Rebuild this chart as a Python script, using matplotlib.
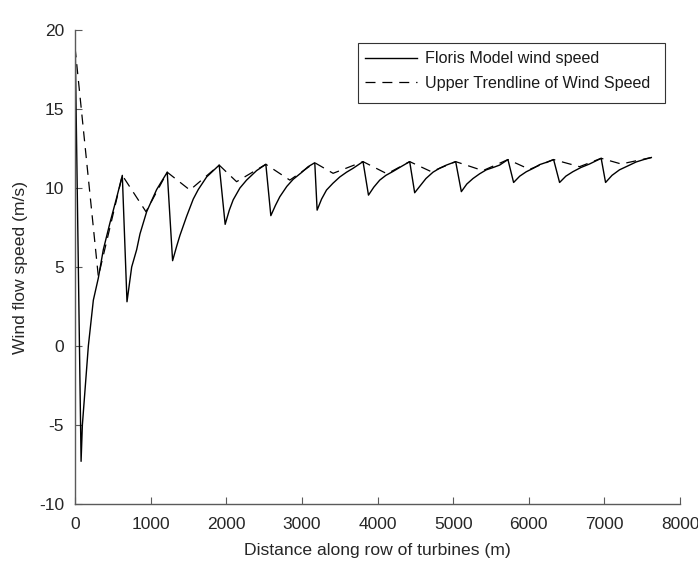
import matplotlib
matplotlib.use('Agg')
import matplotlib.pyplot as plt
from matplotlib.patches import Rectangle

plt.rcParams['font.family'] = ['Liberation Sans', 'DejaVu Sans']
plt.rcParams['axes.unicode_minus'] = False

# Floris model wind speed along the row
dist = [0, 80, 97, 176, 242, 308, 374, 462, 551, 625,
        687, 749, 815, 859, 947, 1013, 1079, 1219,
        1290, 1343, 1387, 1475, 1563, 1629, 1740, 1906,
        1985, 2040, 2091, 2180, 2268, 2400, 2523,
        2589, 2650, 2708, 2800, 2884, 3000, 3082, 3170,
        3201, 3260, 3325, 3410, 3501, 3590, 3677, 3808,
        3880, 3950, 4029, 4110, 4205, 4310, 4425,
        4491, 4557, 4640, 4733, 4820, 4910, 5033,
        5108, 5180, 5262, 5350, 5438, 5530, 5614, 5724,
        5799, 5880, 5967, 6060, 6143, 6230, 6328,
        6407, 6490, 6582, 6690, 6803, 6957,
        7015, 7100, 7199, 7310, 7420, 7520, 7620]
speed = [19.8, -7.3, -5.0, 0.0, 2.9, 4.3, 6.1, 7.8, 9.4, 10.8,
         2.8, 5.0, 6.1, 7.1, 8.5, 9.2, 9.9, 11.0,
         5.4, 6.3, 7.0, 8.2, 9.3, 9.9, 10.7, 11.45,
         7.7, 8.6, 9.25, 10.0, 10.5, 11.1, 11.5,
         8.25, 8.9, 9.45, 10.1, 10.55, 11.0, 11.35, 11.6,
         8.6, 9.3, 9.87, 10.3, 10.7, 11.0, 11.25, 11.67,
         9.55, 10.05, 10.5, 10.8, 11.05, 11.35, 11.67,
         9.7, 10.1, 10.6, 11.0, 11.25, 11.45, 11.67,
         9.77, 10.25, 10.6, 10.9, 11.15, 11.3, 11.45, 11.8,
         10.35, 10.75, 11.03, 11.25, 11.48, 11.62, 11.8,
         10.35, 10.75, 11.03, 11.3, 11.52, 11.88,
         10.35, 10.8, 11.15, 11.4, 11.65, 11.8, 11.93]

# upper trendline: peaks and mid points between turbines
trend_x = [0, 308, 625, 938, 1219, 1519, 1906, 2136, 2523, 2840,
           3170, 3412, 3808, 4125, 4425, 4712, 5033, 5393, 5724, 6010,
           6328, 6671, 6957, 7222, 7620]
trend_y = [18.9, 4.4, 10.8, 8.5, 11.0, 9.87, 11.45, 10.4, 11.5, 10.5,
           11.6, 10.93, 11.67, 10.9, 11.67, 11.03, 11.67, 11.1, 11.8, 11.18,
           11.8, 11.35, 11.88, 11.52, 11.93]

fig = plt.figure(figsize=(6.98, 5.62), dpi=100)
ax = fig.add_axes([0.1075, 0.1032, 0.8668, 0.8434])

ax.plot(dist, speed, color='black', lw=1.0, label='Floris Model wind speed')
ax.plot(trend_x, trend_y, color='black', lw=0.9, dashes=(8, 5.5),
        label='Upper Trendline of Wind Speed')

ax.set_xlim(0, 8000)
ax.set_ylim(-10, 20)
ax.set_xticks(range(0, 8001, 1000))
ax.set_yticks(range(-10, 21, 5))

for s in ['top', 'right']:
    ax.spines[s].set_visible(False)
for s in ['left', 'bottom']:
    ax.spines[s].set_color('#5a5a5a')
    ax.spines[s].set_linewidth(1.0)
ax.tick_params(direction='in', length=5, width=0.8, colors='#5a5a5a',
               labelcolor='#262626', labelsize=12.5)
ax.tick_params(axis='x', pad=9)
ax.tick_params(axis='y', pad=8)

ax.set_xlabel('Distance along row of turbines (m)', fontsize=12.6, color='#262626', labelpad=8)
ax.set_ylabel('Wind flow speed (m/s)', fontsize=12.6, color='#262626', labelpad=8)

# legend text without frame, the box is drawn wider like matlab does
leg = ax.legend(loc='upper left', bbox_to_anchor=(358 / 698, 1 - 44 / 562),
                bbox_transform=fig.transFigure, fontsize=11.6,
                frameon=False, handlelength=3.2, handletextpad=0.5,
                borderpad=0.45, labelspacing=0.6, borderaxespad=0)
leg.set_zorder(6)
for t in leg.get_texts():
    t.set_color('#1a1a1a')
box = Rectangle((358 / 698, 1 - 103 / 562), 307 / 698, 60 / 562,
                transform=fig.transFigure, facecolor='white',
                edgecolor='#333333', lw=0.8, zorder=5, clip_on=False)
ax.add_patch(box)

fig.savefig('out.png', dpi=100)
